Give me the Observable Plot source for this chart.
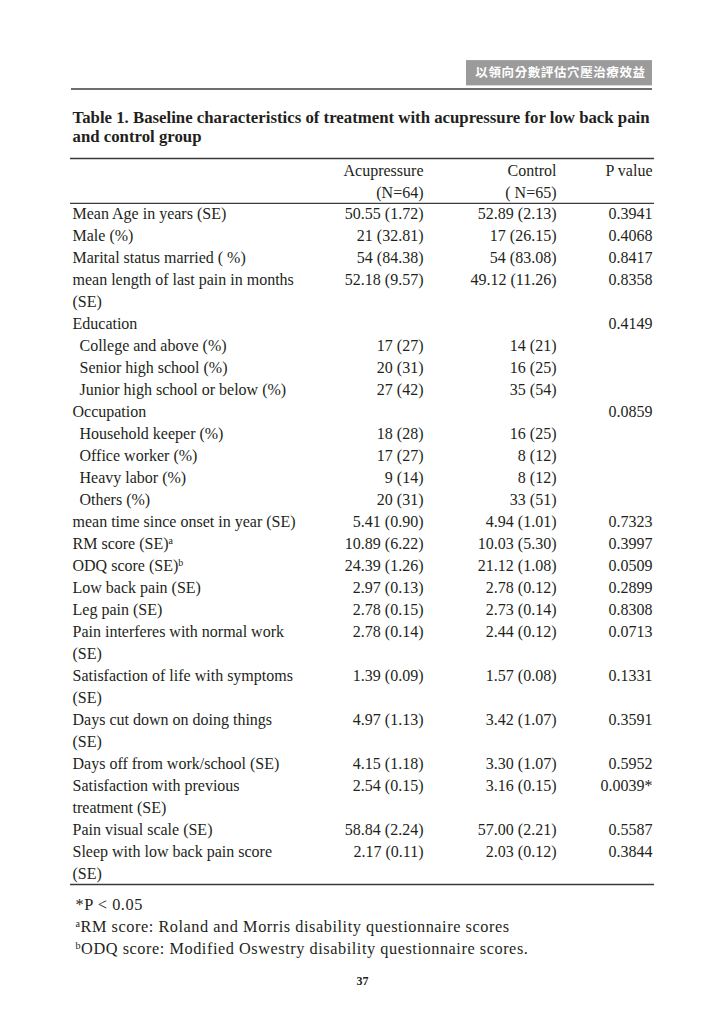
<!DOCTYPE html>
<html>
<head>
<meta charset="utf-8">
<script src="https://cdn.jsdelivr.net/npm/d3@7"></script>
<script src="https://cdn.jsdelivr.net/npm/@observablehq/plot@0.6"></script>
<style>
  html, body { margin: 0; padding: 0; background: #fff; }
  #chart svg { display: block; }
</style>
</head>
<body>
<div id="chart"></div>
<script>
// ---------- data ----------
const runningHead = "以領向分數評估穴壓治療效益";
const titleLines = [
  "Table 1. Baseline characteristics of treatment with acupressure for low back pain",
  "and control group"
];
const columnHeads = ["Acupressure", "Control", "P value"];
const groupSizes = ["(N=64)", "( N=65)", ""];

const labels = [
  "Mean Age in years (SE)",
  "Male (%)",
  "Marital status married ( %)",
  "mean length of last pain in months\n(SE)",
  "Education",
  "College and above (%)",
  "Senior high school (%)",
  "Junior high school or below (%)",
  "Occupation",
  "Household keeper (%)",
  "Office worker (%)",
  "Heavy labor (%)",
  "Others (%)",
  "mean time since onset in year (SE)",
  "RM score (SE)^a",
  "ODQ score (SE)^b",
  "Low back pain (SE)",
  "Leg pain (SE)",
  "Pain interferes with normal work\n(SE)",
  "Satisfaction of life with symptoms\n(SE)",
  "Days cut down on doing things\n(SE)",
  "Days off from work/school (SE)",
  "Satisfaction with previous\ntreatment (SE)",
  "Pain visual scale (SE)",
  "Sleep with low back pain score\n(SE)"
];
const subItems = [
  "College and above (%)", "Senior high school (%)", "Junior high school or below (%)",
  "Household keeper (%)", "Office worker (%)", "Heavy labor (%)", "Others (%)"
];
const acupressure = [
  "50.55 (1.72)", "21 (32.81)", "54 (84.38)", "52.18 (9.57)", "",
  "17 (27)", "20 (31)", "27 (42)", "",
  "18 (28)", "17 (27)", "9 (14)", "20 (31)",
  "5.41 (0.90)", "10.89 (6.22)", "24.39 (1.26)", "2.97 (0.13)", "2.78 (0.15)",
  "2.78 (0.14)", "1.39 (0.09)", "4.97 (1.13)", "4.15 (1.18)", "2.54 (0.15)",
  "58.84 (2.24)", "2.17 (0.11)"
];
const control = [
  "52.89 (2.13)", "17 (26.15)", "54 (83.08)", "49.12 (11.26)", "",
  "14 (21)", "16 (25)", "35 (54)", "",
  "16 (25)", "8 (12)", "8 (12)", "33 (51)",
  "4.94 (1.01)", "10.03 (5.30)", "21.12 (1.08)", "2.78 (0.12)", "2.73 (0.14)",
  "2.44 (0.12)", "1.57 (0.08)", "3.42 (1.07)", "3.30 (1.07)", "3.16 (0.15)",
  "57.00 (2.21)", "2.03 (0.12)"
];
const pValues = [
  "0.3941", "0.4068", "0.8417", "0.8358", "0.4149",
  "", "", "", "0.0859",
  "", "", "", "",
  "0.7323", "0.3997", "0.0509", "0.2899", "0.8308",
  "0.0713", "0.1331", "0.3591", "0.5952", "0.0039*",
  "0.5587", "0.3844"
];
const footnotes = [
  "*P < 0.05",
  "^aRM score: Roland and Morris disability questionnaire scores",
  "^bODQ score: Modified Oswestry disability questionnaire scores."
];
const pageNumber = "37";

// ---------- layout (styles / positions, in row units for y) ----------
const colX = {label: 72, sub: 79, acu: 423, ctrl: 556, p: 652};
const serif = "'Liberation Serif', 'Times New Roman', serif";
const ink = "#231f20";

// expand wrapped labels into table lines
const labelLines = [];
const cells = [];
let row = 0;
labels.forEach((lab, i) => {
  const parts = lab.split("\n");
  const isSub = subItems.includes(lab);
  cells.push({row, acu: acupressure[i], ctrl: control[i], p: pValues[i]});
  parts.forEach(part => {
    labelLines.push({row, text: part, sub: isSub});
    row++;
  });
});
const lastRow = row - 1; // 30

const heads = columnHeads.map((h, i) => ({h, n: groupSizes[i], x: [colX.acu, colX.ctrl, colX.p][i]}));

const textStyle = {fontFamily: serif, fontSize: 16, fill: ink};

const plot = Plot.plot({
  width: 724,
  height: 1024,
  margin: 0,
  x: {domain: [0, 724], range: [0, 724], axis: null},
  y: {domain: [0, lastRow], range: [213, 873], axis: null},
  marks: [
    // running head band
    Plot.rect([runningHead], {x1: 466, x2: 652, y1: -6.95, y2: -5.8, fill: "#9b9b9b"}),
    Plot.text([runningHead], {x: 560, y: -6.37, text: d => d, fill: "#ffffff",
      fontFamily: "'Noto Sans CJK TC', sans-serif", fontSize: 12.5, fontWeight: "bold", textAnchor: "middle"}),
    Plot.ruleY([-5.66], {x1: 71, x2: 652, stroke: "#6e6e6e", strokeWidth: 2}),
    // title
    Plot.text(titleLines, {x: colX.label, y: (d, i) => -4.38 + i * 0.9, text: d => d, textAnchor: "start",
      fontFamily: serif, fontSize: 16.8, fontWeight: "bold", fill: ink}),
    // table rules
    Plot.ruleY([-2.5, -0.46, lastRow + 0.5], {x1: 70, x2: 654, stroke: "#3a3a3a", strokeWidth: 1.3}),
    // column heads
    Plot.text(heads, {x: "x", y: -1.95, text: "h", textAnchor: "end", ...textStyle}),
    Plot.text(heads, {x: "x", y: -0.95, text: "n", textAnchor: "end", ...textStyle}),
    // labels
    Plot.text(labelLines, {x: d => d.sub ? colX.sub : colX.label, y: "row", text: "text", textAnchor: "start", ...textStyle}),
    // values
    Plot.text(cells, {x: colX.acu, y: "row", text: "acu", textAnchor: "end", ...textStyle}),
    Plot.text(cells, {x: colX.ctrl, y: "row", text: "ctrl", textAnchor: "end", ...textStyle}),
    Plot.text(cells, {x: colX.p, y: "row", text: "p", textAnchor: "end", ...textStyle}),
    // footnotes
    Plot.text(footnotes, {x: 75, y: (d, i) => lastRow + 1.42 + i * 1.0, text: d => d, textAnchor: "start",
      fontFamily: serif, fontSize: 16.3, fill: ink}),
    // page number
    Plot.text([pageNumber], {x: 362, y: lastRow + 4.9, text: d => d, textAnchor: "middle",
      fontFamily: serif, fontSize: 12, fontWeight: "bold", fill: ink})
  ]
});

// footnotes are letter-spaced in the original (style tweak applied by content)
d3.select(plot).selectAll("text").each(function () {
  const t = this.textContent;
  if (footnotes.includes(t)) this.style.letterSpacing = "0.55px";
  if (t === runningHead) this.style.letterSpacing = "0.6px";
});

// superscript markers "^x" -> tspans
d3.select(plot).selectAll("text").each(function () {
  const t = this.textContent;
  if (!t.includes("^")) return;
  const m = t.match(/^(.*?)\^(\w)(.*)$/);
  if (!m) return;
  const sel = d3.select(this);
  sel.text(null);
  if (m[1]) sel.append("tspan").text(m[1]);
  sel.append("tspan").attr("font-size", "0.62em").attr("dy", "-0.45em").text(m[2]);
  if (m[3]) sel.append("tspan").attr("dy", "0.28em").text(m[3]);
});

document.getElementById("chart").appendChild(plot);
</script>
</body>
</html>
